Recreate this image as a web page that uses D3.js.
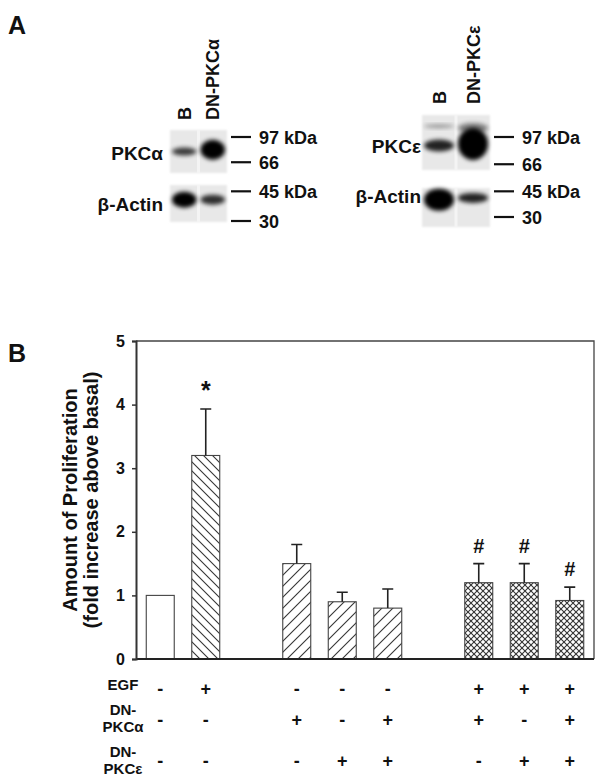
<!DOCTYPE html>
<html lang="en">
<head>
<meta charset="UTF-8"/>
<title>PKC proliferation</title>
<script src="https://d3js.org/d3.v7.min.js"></script>
<style type="text/css">
  body { margin: 0; background: #fff; }
  svg text { font-family: "Liberation Sans", Arial, sans-serif; font-weight: bold; fill: #111; }
  .blotline { stroke: #111; stroke-width: 2.2; }
  .errbar { stroke: #222; stroke-width: 1.6; fill: none; }
</style>
</head>
<body>
<script>

// ---- panel B data ----
var conditions = ["Basal", "EGF", "DN-a", "DN-e", "DN-a+e", "EGF+DN-a", "EGF+DN-e", "EGF+DN-a+e"];
var proliferation = [1.0, 3.2, 1.5, 0.9, 0.8, 1.2, 1.2, 0.92];
var errors = [0, 0.73, 0.3, 0.15, 0.3, 0.3, 0.3, 0.21];
var fills = ["none", "back", "fwd", "fwd", "fwd", "cross", "cross", "cross"];
var marks = ["", "*", "", "", "", "#", "#", "#"];
var slots = ["Basal", "EGF", "gap1", "DN-a", "DN-e", "DN-a+e", "gap2", "EGF+DN-a", "EGF+DN-e", "EGF+DN-a+e"];
var egfRow = ["-", "+", "-", "-", "-", "+", "+", "+"];
var dnAlphaRow = ["-", "-", "+", "-", "+", "+", "-", "+"];
var dnEpsRow = ["-", "-", "-", "+", "+", "-", "+", "+"];
var yTicks = [0, 1, 2, 3, 4, 5];

// ---- panel A data ----
var lanes = ["B", "DN"];
var markersKDa = [97, 66, 45, 30];
var pkcAlphaBands = [{lane: "B", kda: 79, dens: 0.75, h: 4}, {lane: "DN", kda: 81, dens: 1, h: 10}];
var actinLeftBands = [{lane: "B", kda: 40, dens: 1, h: 8}, {lane: "DN", kda: 40, dens: 0.8, h: 5}];
var pkcEpsBands = [{lane: "B", kda: 113, dens: 0.35, h: 2}, {lane: "B", kda: 86, dens: 0.85, h: 6},
                   {lane: "DN", kda: 110, dens: 0.45, h: 5}, {lane: "DN", kda: 88, dens: 1, h: 16}];
var actinRightBands = [{lane: "B", kda: 40, dens: 1, h: 11}, {lane: "DN", kda: 41, dens: 0.85, h: 5}];

var svg = d3.select("body").append("svg")
    .attr("width", 604)
    .attr("height", 784);

// patterns
var defs = svg.append("defs");
function hatch(id, d, size) {
  var p = defs.append("pattern").attr("id", id)
      .attr("patternUnits", "userSpaceOnUse")
      .attr("width", size).attr("height", size);
  p.append("rect").attr("width", size).attr("height", size).attr("fill", "#fff");
  d.forEach(function(s) {
    p.append("path").attr("d", s).attr("stroke", "#333").attr("stroke-width", 1.1).attr("fill", "none");
  });
}
hatch("back", ["M-2,-2L11,11", "M-2,7L2,11", "M7,-2L11,2"], 9);
hatch("fwd", ["M-2,13L13,-2", "M-2,2L2,-2", "M9,13L13,9"], 11);
hatch("cross", ["M-1,-1L7,7", "M-1,7L7,-1"], 6);
defs.append("filter").attr("id", "blur").attr("x", "-50%").attr("y", "-50%")
    .attr("width", "200%").attr("height", "200%")
  .append("feGaussianBlur").attr("stdDeviation", 2.2);
defs.append("filter").attr("id", "soft")
  .append("feGaussianBlur").attr("stdDeviation", 0.8);

// ---------- panel A ----------
svg.append("text").attr("x", 8).attr("y", 34).attr("font-size", 25).text("A");

var mw = d3.scaleLog().domain([97, 30]).range([137, 220]);

function blotPanel(opt) {
  var g = svg.append("g");
  var lx = d3.scaleBand().domain(lanes).range([opt.x0, opt.x1]);

  // lane labels
  g.selectAll(".lane").data(opt.laneNames).enter().append("text")
      .attr("transform", function(d, i) { return "translate(" + (lx(lanes[i]) + lx.bandwidth() / 2 + 6.5) + "," + opt.labelBase + ") rotate(-90)"; })
      .attr("font-size", 18)
      .text(function(d) { return d; });

  opt.strips.forEach(function(s) {
    var sg = g.append("g");
    sg.append("rect").attr("x", opt.x0).attr("y", s.top)
        .attr("width", opt.x1 - opt.x0).attr("height", s.bottom - s.top)
        .attr("fill", "#e8e8e8").attr("filter", "url(#soft)");
    sg.append("rect").attr("x", lx(lanes[1]) - 1.5).attr("y", s.top)
        .attr("width", 3).attr("height", s.bottom - s.top).attr("fill", "#f4f4f4");
    sg.selectAll("ellipse").data(s.bands).enter().append("ellipse")
        .attr("cx", function(d) { return lx(d.lane) + lx.bandwidth() / 2; })
        .attr("cy", function(d) { return mw(d.kda); })
        .attr("rx", lx.bandwidth() / 2 - 2)
        .attr("ry", function(d) { return d.h; })
        .attr("fill", "#000")
        .attr("opacity", function(d) { return d.dens; })
        .attr("filter", "url(#blur)");
    g.append("text").attr("x", opt.x0 - opt.gap).attr("y", s.labelY)
        .attr("text-anchor", "end").attr("font-size", 19)
        .text(s.label);
  });

  // molecular weight markers
  var m = g.selectAll(".mk").data(markersKDa).enter().append("g")
      .attr("transform", function(d, i) { return "translate(0," + (mw(d) + (opt.shift[i] || 0)) + ")"; });
  m.append("line").attr("class", "blotline")
      .attr("x1", opt.x1 + 4).attr("x2", opt.x1 + 24);
  m.append("text").attr("x", opt.x1 + 32).attr("y", 6.5).attr("font-size", 18)
      .text(function(d, i) { return i % 2 === 0 ? d + " kDa" : d; });
}

blotPanel({
  x0: 170, x1: 227, labelBase: 120, gap: 7,
  laneNames: ["B", "DN-PKC\u03b1"],
  shift: [0, -2, 0, 1],
  strips: [
    {top: 130, bottom: 173, bands: pkcAlphaBands, label: "PKC\u03b1", labelY: 160},
    {top: 185, bottom: 222, bands: actinLeftBands, label: "\u03b2-Actin", labelY: 211}
  ]
});
blotPanel({
  x0: 422, x1: 490, labelBase: 104, gap: 1,
  laneNames: ["B", "DN-PKC\u03b5"],
  shift: [0, 0, 0, -3],
  strips: [
    {top: 115, bottom: 170, bands: pkcEpsBands, label: "PKC\u03b5", labelY: 153},
    {top: 188, bottom: 227, bands: actinRightBands, label: "\u03b2-Actin", labelY: 203}
  ]
});

// ---------- panel B ----------
svg.append("text").attr("x", 8).attr("y", 362).attr("font-size", 25).text("B");

var margin = {top: 341, left: 136, right: 594, bottom: 659};

var x = d3.scaleBand().domain(slots).range([137.5, 592.5])
    .paddingInner(0.385).paddingOuter(0.1925);
var y = d3.scaleLinear().domain([0, 5]).range([margin.bottom, margin.top]);

// frame (top + right)
svg.append("path")
    .attr("d", "M" + margin.left + "," + margin.top + "H" + margin.right + "V" + margin.bottom)
    .attr("fill", "none").attr("stroke", "#444").attr("stroke-width", 1.3);

// bars
var bars = svg.append("g");
bars.selectAll("rect").data(conditions).enter().append("rect")
    .attr("x", function(d) { return x(d); })
    .attr("y", function(d, i) { return y(proliferation[i]); })
    .attr("width", x.bandwidth())
    .attr("height", function(d, i) { return y(0) - y(proliferation[i]); })
    .attr("fill", function(d, i) { return fills[i] === "none" ? "#fff" : "url(#" + fills[i] + ")"; })
    .attr("stroke", "#444").attr("stroke-width", 1.1);

// error bars
var eb = svg.append("g").attr("class", "errbar");
conditions.forEach(function(c, i) {
  if (!errors[i]) return;
  var cx = x(c) + x.bandwidth() / 2;
  eb.append("path").attr("d",
      "M" + cx + "," + y(proliferation[i]) + "V" + y(proliferation[i] + errors[i]) +
      "M" + (cx - 5.5) + "," + y(proliferation[i] + errors[i]) + "H" + (cx + 5.5));
});

// significance marks
svg.append("g").selectAll("text").data(conditions).enter().append("text")
    .attr("x", function(d) { return x(d) + x.bandwidth() / 2; })
    .attr("y", function(d, i) { return y(proliferation[i] + errors[i]) - (marks[i] === "*" ? 10.5 : 11); })
    .attr("text-anchor", "middle")
    .attr("font-size", function(d, i) { return marks[i] === "*" ? 25 : 20; })
    .text(function(d, i) { return marks[i]; });

// axes
var xAxis = svg.append("g")
    .attr("transform", "translate(0," + margin.bottom + ")");
xAxis.append("line").attr("x1", margin.left).attr("x2", margin.right)
    .attr("stroke", "#222").attr("stroke-width", 2);

var yAxis = svg.append("g")
    .attr("transform", "translate(" + margin.left + ",0)")
    .call(d3.axisLeft(y).tickValues(yTicks).tickSize(4).tickPadding(7).tickFormat(d3.format("d")));
yAxis.select(".domain").attr("stroke", "#333").attr("stroke-width", 2);
yAxis.selectAll(".tick line").attr("stroke", "#333").attr("stroke-width", 1.5);
yAxis.selectAll(".tick text").attr("font-size", 16)
    .attr("font-family", "Liberation Sans, Arial, sans-serif").attr("font-weight", "bold").attr("fill", "#111");

// y label
var yl = svg.append("text").attr("transform", "translate(77,500) rotate(-90)")
    .attr("text-anchor", "middle").attr("font-size", 20);
yl.append("tspan").attr("x", 0).attr("dy", 0).text("Amount of Proliferation");
yl.append("tspan").attr("x", 0).attr("dy", 21).text("(fold increase above basal)");

// treatment table, columns under the bars
var rows = [
  {vals: egfRow, y: 695, label: ["EGF"], ly: 690},
  {vals: dnAlphaRow, y: 726, label: ["DN-", "PKC\u03b1"], ly: 715},
  {vals: dnEpsRow, y: 767, label: ["DN-", "PKC\u03b5"], ly: 757}
];
rows.forEach(function(r) {
  var lt = svg.append("text").attr("text-anchor", "middle").attr("font-size", 15);
  r.label.forEach(function(l, k) {
    lt.append("tspan").attr("x", 123).attr("y", r.ly + k * 17).text(l);
  });
  svg.append("g").selectAll("text").data(conditions).enter().append("text")
      .attr("x", function(d) { return x(d) + x.bandwidth() / 2; })
      .attr("y", r.y)
      .attr("text-anchor", "middle")
      .attr("font-size", 18)
      .text(function(d, i) { return r.vals[i]; });
});

</script>
</body>
</html>
